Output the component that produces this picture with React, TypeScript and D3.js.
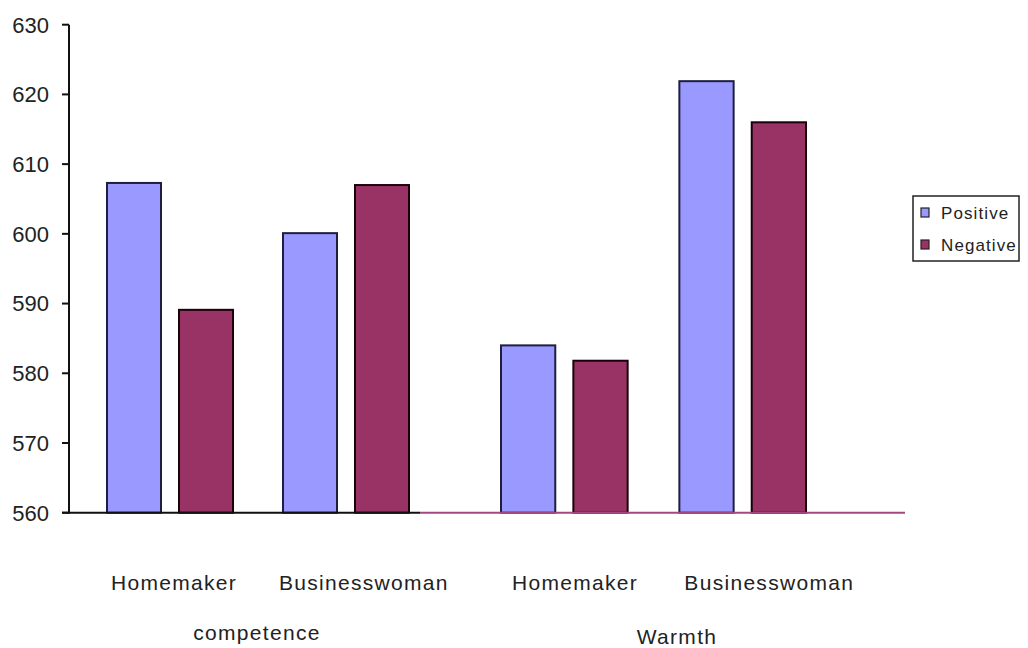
import React from "react";
import * as d3 from "d3";

// Mean scores per condition
const panels = ["competence", "Warmth"];
const categories = ["Homemaker", "Businesswoman"];
const seriesNames = ["Positive", "Negative"];
const competencePositive = [607.3, 600.1];
const competenceNegative = [589.1, 607.0];
const warmthPositive = [584.0, 621.9];
const warmthNegative = [581.8, 616.0];
const yTicks = [560, 570, 580, 590, 600, 610, 620, 630];

const seriesColors = ["#9999FF", "#993366"];
const seriesStroke = ["#1e1e40", "#1a0008"];

const W = 1028;
const H = 648;
const axisX = 69;
const yTop = 24.7;
const yBottom = 512.7;

// Layout for each panel: where its category bands sit and where its captions go
const panelLayout = [
  { range: [107, 409] as [number, number], padding: 0.284, captionX: 257, captionY: 640, labelDx: [4, -4], axisFrom: 62, axisTo: 420, axisColor: "#111" },
  { range: [501, 806] as [number, number], padding: 0.29, captionX: 677, captionY: 644, labelDx: [11, 5], axisFrom: 420, axisTo: 905, axisColor: "#a04a80" },
];

export default function App() {
  const y = d3.scaleLinear().domain([560, 630]).range([yBottom, yTop]);
  const panelValues = [
    [competencePositive, competenceNegative],
    [warmthPositive, warmthNegative],
  ];

  const textFill = "#222";
  const font = "'Liberation Sans', Arial, sans-serif";

  return (
    <svg width={W} height={H} style={{ position: "absolute", left: 0, top: 0, background: "#fff" }}>
      {/* y axis */}
      <line x1={axisX} x2={axisX} y1={y(630)} y2={y(560) + 1} stroke="#111" strokeWidth={2} />
      {yTicks.map((t) => (
        <g key={t}>
          <line x1={axisX - 7} x2={axisX} y1={y(t)} y2={y(t)} stroke="#111" strokeWidth={2} />
          <text x={49} y={y(t)} dy="0.36em" textAnchor="end" fontFamily={font} fontSize={22} fill={textFill}>
            {t}
          </text>
        </g>
      ))}

      {panels.map((panel, pi) => {
        const layout = panelLayout[pi];
        const x0 = d3.scaleBand<string>().domain(categories).range(layout.range).paddingInner(layout.padding).paddingOuter(0);
        const x1 = d3.scaleBand<string>().domain(seriesNames).range([0, x0.bandwidth()]).paddingInner(0.25).paddingOuter(0);
        return (
          <g key={panel}>
            {categories.map((cat, ci) => (
              <g key={cat} transform={`translate(${x0(cat)},0)`}>
                {seriesNames.map((s, si) => {
                  const v = panelValues[pi][si][ci];
                  return (
                    <rect
                      key={s}
                      x={x1(s)}
                      y={y(v)}
                      width={x1.bandwidth()}
                      height={y(560) - y(v)}
                      fill={seriesColors[si]}
                      stroke={seriesStroke[si]}
                      strokeWidth={2}
                    />
                  );
                })}
                <text
                  x={layout.labelDx[ci]}
                  y={590}
                  fontFamily={font}
                  fontSize={21}
                  letterSpacing={1.3}
                  fill={textFill}
                >
                  {cat}
                </text>
              </g>
            ))}
            <line x1={layout.axisFrom} x2={layout.axisTo} y1={y(560)} y2={y(560)} stroke={layout.axisColor} strokeWidth={2} />
            <text x={layout.captionX} y={layout.captionY} textAnchor="middle" fontFamily={font} fontSize={21} letterSpacing={1.3} fill={textFill}>
              {panel}
            </text>
          </g>
        );
      })}

      {/* legend */}
      <g>
        <rect x={913} y={196} width={106} height={65} fill="#fff" stroke="#222" strokeWidth={1.5} />
        {seriesNames.map((s, si) => (
          <g key={s} transform={`translate(0,${si * 32})`}>
            <rect x={921} y={208} width={8} height={9} fill={seriesColors[si]} stroke="#222" strokeWidth={1.2} />
            <text x={941} y={219} fontFamily={font} fontSize={17} letterSpacing={1.1} fill={textFill}>
              {s}
            </text>
          </g>
        ))}
      </g>
    </svg>
  );
}
